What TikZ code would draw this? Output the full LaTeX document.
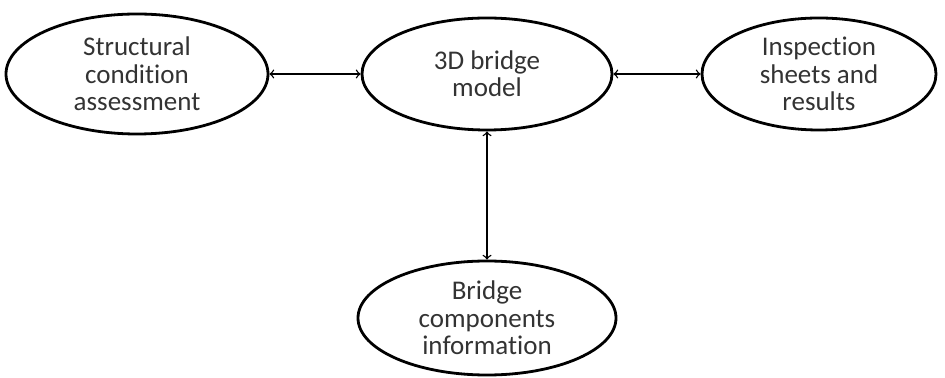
\documentclass[tikz,border=0pt]{standalone}
\usepackage{fontspec}
\setmainfont{Carlito}[Ligatures=NoCommon]
\usetikzlibrary{arrows,shapes.geometric,positioning}

\begin{document}
\begin{tikzpicture}[x=0.5pt,y=-0.5pt,>=to]
    \tikzset{blob/.style={ellipse, draw, line width=1.4pt, inner sep=0pt, align=center,
        text=black!80, font=\fontsize{13.5}{13.7}\selectfont}}
    \useasboundingbox (0,0) rectangle (945,378);
    \node[blob, minimum width=125pt, minimum height=56pt] (model) at (487,74) {3D bridge\\model};
    \node[blob, minimum width=131pt, minimum height=60pt] (assess) [left of=model, node distance=175pt] {Structural\\condition\\assessment};
    \node[blob, minimum width=117pt, minimum height=56pt] (sheets) [right of=model, node distance=166pt] {Inspection\\sheets and\\results};
    \node[blob, minimum width=129pt, minimum height=57pt] (parts) [below of=model, node distance=122pt] {Bridge\\components\\information};
    \path[<->, line width=0.7pt]
    (assess) edge (model)
    (model) edge (sheets)
    (model) edge (parts);
  \end{tikzpicture}
\end{document}
